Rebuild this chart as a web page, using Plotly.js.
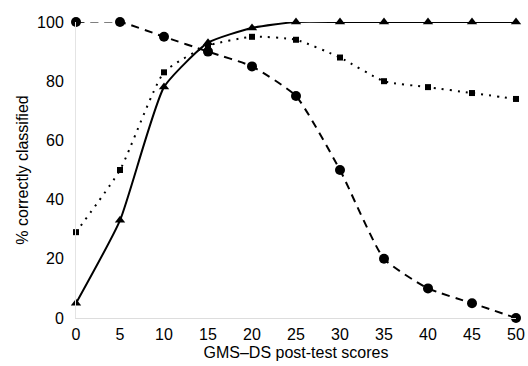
<!DOCTYPE html>
<html><head><meta charset="utf-8">
<script src="https://cdn.plot.ly/plotly-3.0.1.min.js"></script>
<style>html,body{margin:0;padding:0;background:#fff}#c{width:528px;height:366px}</style>
</head><body><div id="c"></div>
<script>
const scores = [0,5,10,15,20,25,30,35,40,45,50];
const dashedCircles = [100,100,95,90,85,75,50,20,10,5,0];
const dottedSquares = [29,50,83,92,95,94,88,80,78,76,74];
const solidTriangles = [5,33,78,93,98,100,100,100,100,100,100];
const xTicks = [0,5,10,15,20,25,30,35,40,45,50];
const yTicks = [0,20,40,60,80,100];

const traces = [
  {x: scores, y: dottedSquares, mode:'lines+markers', line:{color:'#000', width:2, dash:'2px,6px', shape:'spline', smoothing:0.5}, marker:{symbol:'square', size:6, color:'#000'}, cliponaxis:false},
  {x: scores, y: dashedCircles, mode:'lines+markers', line:{color:'#000', width:2, dash:'8px,6px', shape:'spline', smoothing:0.5}, marker:{symbol:'circle', size:10, color:'#000'}, cliponaxis:false},
  {x: scores, y: solidTriangles, mode:'lines+markers', line:{color:'#000', width:2, shape:'spline', smoothing:0.5}, marker:{symbol:'triangle-up', size:9, color:'#000'}, cliponaxis:false}
];
const font = {family:'Liberation Sans, Arial, sans-serif', size:16, color:'#000'};
const layout = {
  width:528, height:366,
  margin:{l:76, r:12, t:22, b:48},
  paper_bgcolor:'#fff', plot_bgcolor:'#fff',
  showlegend:false,
  font: font,
  xaxis:{range:[0,50], tickvals:xTicks, showgrid:false, zeroline:false, showline:true, linecolor:'#ddd', linewidth:1, ticks:'', ticklabelstandoff:2, tickfont:font, title:{text:'GMS–DS post-test scores', font:font, standoff:4}},
  yaxis:{range:[0,100], tickvals:yTicks, showgrid:false, zeroline:false, showline:true, linecolor:'#e4e4e4', linewidth:1, ticks:'', ticklabelstandoff:8, tickfont:font, title:{text:'% correctly classified', font:font, standoff:4}}
};
Plotly.newPlot('c', traces, layout, {staticPlot:true});
</script></body></html>
